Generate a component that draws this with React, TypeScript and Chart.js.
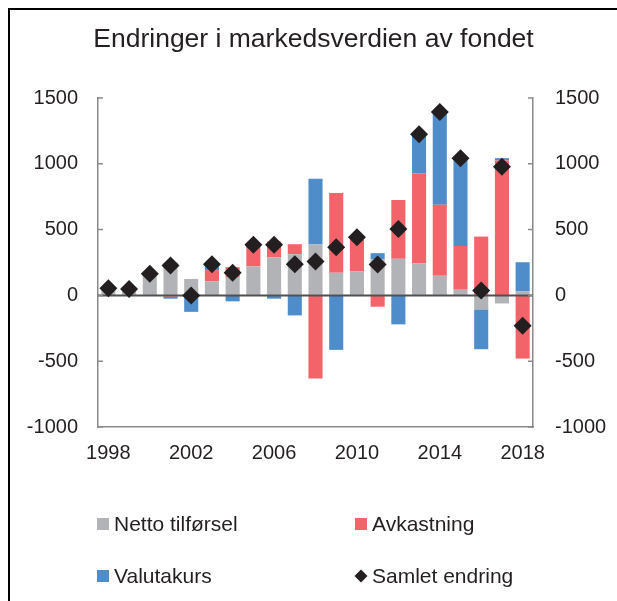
import React, { useEffect, useRef } from "react";
import { Chart, registerables } from "chart.js";

Chart.register(...registerables);

const years = [
  "1998", "1999", "2000", "2001", "2002", "2003", "2004", "2005", "2006", "2007",
  "2008", "2009", "2010", "2011", "2012", "2013", "2014", "2015", "2016", "2017", "2018",
];
const nettoTilforsel = [40, 30, 160, 250, 125, 106, 140, 220, 288, 313, 386, 172, 182, 273, 278, 242, 149, 43, -106, -61, 30];
const avkastning = [15, 18, 0, -10, 0, 86, 75, 140, 121, 76, -631, 606, 260, -86, 447, 687, 540, 333, 447, 1025, -480];
const valutakurs = [0, 0, 5, -15, -125, 45, -45, 20, -25, -152, 500, -414, -5, 48, -220, 290, 700, 662, -303, 18, 222];
const samletEndring = [55, 48, 164, 227, 0, 237, 172, 384, 384, 237, 258, 366, 442, 235, 505, 1225, 1394, 1043, 38, 977, -230];
const yTicks = [-1000, -500, 0, 500, 1000, 1500];
const seriesLabels = ["Netto tilførsel", "Avkastning", "Valutakurs", "Samlet endring"];
const titleText = "Endringer i markedsverdien av fondet";

const COLORS = {
  gray: "#B2B3B6",
  red: "#F2646A",
  blue: "#4F8DCA",
  black: "#231F20",
  axis: "#8A8A8A",
  zero: "#505050",
};
const FONT = "'Liberation Sans', Arial, Helvetica, sans-serif";

export default function App() {
  const ref = useRef<HTMLCanvasElement>(null);

  useEffect(() => {
    const canvas = ref.current;
    if (!canvas) return;

    const innerTicks = {
      id: "innerTicks",
      afterDraw(chart: any) {
        const { ctx, chartArea } = chart;
        const y = chart.scales.y;
        ctx.save();
        ctx.strokeStyle = COLORS.axis;
        ctx.lineWidth = 1.5;
        for (const v of yTicks) {
          const p = y.getPixelForValue(v);
          ctx.beginPath();
          ctx.moveTo(chartArea.left, p);
          ctx.lineTo(chartArea.left + 5, p);
          ctx.moveTo(chartArea.right, p);
          ctx.lineTo(chartArea.right - 5, p);
          ctx.stroke();
        }
        ctx.restore();
      },
    };

    const zeroLine = {
      id: "zeroLine",
      beforeDatasetDraw(chart: any, args: any) {
        if (args.index !== 3) return;
        const { ctx, chartArea } = chart;
        const p = chart.scales.y.getPixelForValue(0);
        ctx.save();
        ctx.strokeStyle = COLORS.zero;
        ctx.lineWidth = 2;
        ctx.beginPath();
        ctx.moveTo(chartArea.left, p);
        ctx.lineTo(chartArea.right, p);
        ctx.stroke();
        ctx.restore();
      },
    };

    const gridLegend = {
      id: "gridLegend",
      afterDraw(chart: any) {
        const { ctx, chartArea } = chart;
        const ds = chart.data.datasets;
        const cols = [chartArea.left - 1, chartArea.left + 257];
        const rows = [chartArea.bottom + 97, chartArea.bottom + 149];
        ctx.save();
        ctx.font = `21px ${FONT}`;
        ctx.textBaseline = "middle";
        ctx.textAlign = "left";
        [0, 1, 2, 3].forEach((di, k) => {
          const x = cols[k % 2];
          const y = rows[Math.floor(k / 2)];
          const d = ds[di];
          if (di === 3) {
            ctx.fillStyle = COLORS.black;
            ctx.beginPath();
            ctx.moveTo(x + 6, y - 6.5);
            ctx.lineTo(x + 12.5, y);
            ctx.lineTo(x + 6, y + 6.5);
            ctx.lineTo(x - 0.5, y);
            ctx.closePath();
            ctx.fill();
          } else {
            ctx.fillStyle = d.backgroundColor;
            ctx.fillRect(x, y - 6, 12, 12);
          }
          ctx.fillStyle = COLORS.black;
          ctx.fillText(d.label, x + 17, y + 1);
        });
        ctx.restore();
      },
    };

    const tickFont = { family: FONT, size: 20 };
    const plain = (v: any) => String(v);

    const chart = new Chart(canvas, {
      type: "bar",
      data: {
        labels: years,
        datasets: [
          {
            label: seriesLabels[0],
            data: nettoTilforsel,
            backgroundColor: COLORS.gray,
            yAxisID: "y",
            stack: "parts",
            order: 1,
            barPercentage: 0.68,
            categoryPercentage: 1,
          },
          {
            label: seriesLabels[1],
            data: avkastning,
            backgroundColor: COLORS.red,
            yAxisID: "y",
            stack: "parts",
            order: 1,
            barPercentage: 0.68,
            categoryPercentage: 1,
          },
          {
            label: seriesLabels[2],
            data: valutakurs,
            backgroundColor: COLORS.blue,
            yAxisID: "y",
            stack: "parts",
            order: 1,
            barPercentage: 0.68,
            categoryPercentage: 1,
          },
          {
            type: "line",
            label: seriesLabels[3],
            data: samletEndring,
            yAxisID: "y2",
            stack: "total",
            order: 0,
            showLine: false,
            backgroundColor: COLORS.black,
            borderColor: COLORS.black,
            pointStyle: "rectRot",
            pointRadius: 9,
            pointBorderWidth: 0,
          } as any,
        ],
      },
      options: {
        responsive: false,
        animation: false,
        layout: { padding: { left: 0, right: 0, top: 0, bottom: 114 } },
        plugins: {
          legend: { display: false },
          tooltip: { enabled: false },
          title: {
            display: true,
            text: titleText,
            color: COLORS.black,
            font: { family: FONT, size: 26.5, weight: "normal", lineHeight: 1.2 },
            padding: { top: 14, bottom: 42.2 },
          },
        },
        scales: {
          x: {
            stacked: true,
            grid: { display: true, drawOnChartArea: false, drawTicks: false },
            border: { display: true, color: COLORS.axis, width: 1.5 },
            ticks: {
              autoSkip: false,
              maxRotation: 0,
              minRotation: 0,
              padding: 14,
              color: COLORS.black,
              font: tickFont,
              callback: (_v: any, i: number) => (i % 4 === 0 ? years[i] : ""),
            },
            afterFit: (s: any) => {
              s.height = 60;
            },
          },
          y: {
            position: "left",
            stacked: true,
            min: -1000,
            max: 1500,
            grid: { display: true, drawOnChartArea: false, drawTicks: false },
            border: { display: true, color: COLORS.axis, width: 1.5 },
            ticks: { stepSize: 500, padding: 20, color: COLORS.black, font: tickFont, callback: plain },
            afterFit: (s: any) => {
              s.width = 88;
            },
          },
          y2: {
            position: "right",
            min: -1000,
            max: 1500,
            grid: { display: true, drawOnChartArea: false, drawTicks: false },
            border: { display: true, color: COLORS.axis, width: 1.5 },
            ticks: { stepSize: 500, padding: 22, color: COLORS.black, font: tickFont, callback: plain },
            afterFit: (s: any) => {
              s.width = 84;
            },
          },
        },
      },
      plugins: [zeroLine, innerTicks, gridLegend],
    } as any);

    return () => chart.destroy();
  }, []);

  return (
    <div
      style={{
        position: "fixed",
        left: 0,
        top: 0,
        width: 617,
        height: 601,
        overflow: "hidden",
        background: "#fff",
      }}
    >
      <div
        style={{
          position: "absolute",
          left: 8,
          top: 8,
          width: 620,
          height: 610,
          borderLeft: "2px solid #000",
          borderTop: "2px solid #000",
        }}
      />
      <canvas
        ref={ref}
        width={607}
        height={591}
        style={{ position: "absolute", left: 10, top: 10, display: "block" }}
      />
    </div>
  );
}
